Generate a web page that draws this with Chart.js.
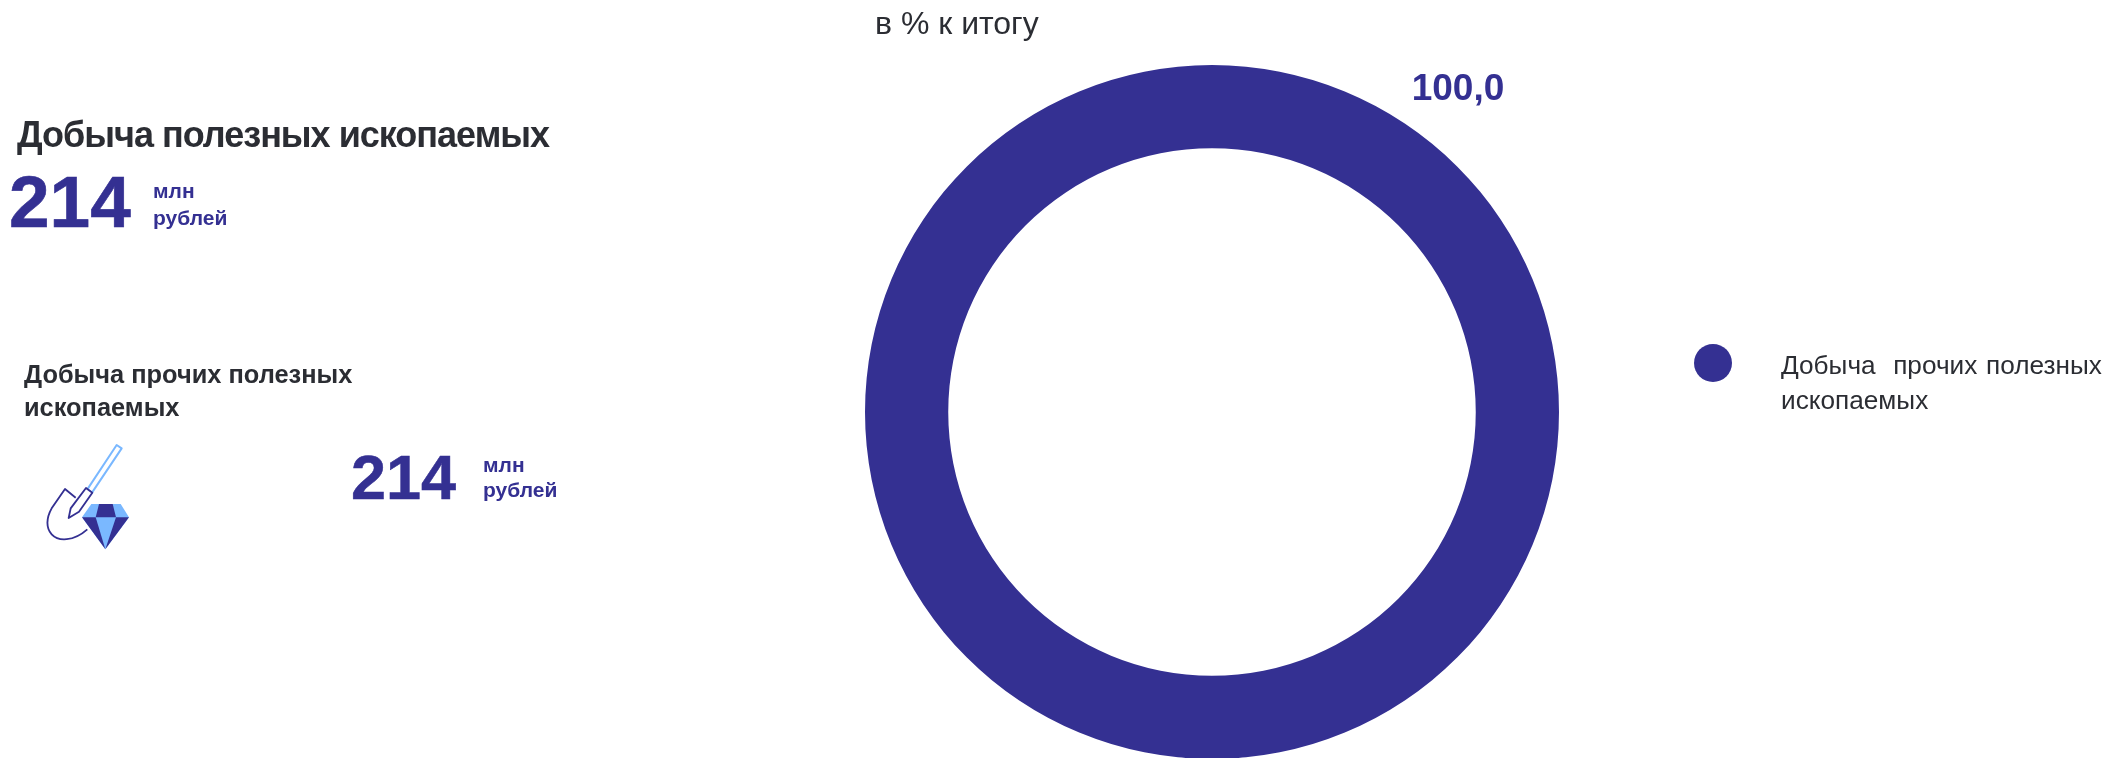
<!DOCTYPE html>
<html lang="ru">
<head>
<meta charset="utf-8">
<title>Добыча полезных ископаемых</title>
<script src="https://cdn.jsdelivr.net/npm/chart.js@4"></script>
<style>
    html, body { margin: 0; padding: 0; background: #fff; }
    body { position: relative; width: 2118px; height: 758px; overflow: hidden; font-family: "Liberation Sans", Arial, sans-serif; color: #2b2d33; }
    #myChart { position: absolute; left: 0; top: 0; }
    .txt { position: absolute; white-space: nowrap; line-height: 1; }
    .b { font-weight: bold; }
    .blue { color: #343092; }
    #legendDot { position: absolute; left: 1694px; top: 344px; width: 38px; height: 38px; border-radius: 50%; background: #343092; }
    #icon { position: absolute; left: 30px; top: 430px; }
</style>
</head>
<body>
<canvas id="myChart" width="2118" height="758"></canvas>
<div class="txt" id="subtitle" style="left:875px;top:7px;font-size:32px"></div>
<div class="txt b" id="mainTitle" style="left:17px;top:117px;font-size:36px;letter-spacing:-1px"></div>
<div class="txt b blue" id="mainValue" style="left:9px;top:165px;font-size:73px;-webkit-text-stroke:0.6px #343092"></div>
<div class="txt b blue" id="mainUnit1" style="left:153px;top:180px;font-size:21px"></div>
<div class="txt b blue" id="mainUnit2" style="left:153px;top:207px;font-size:21px"></div>
<div class="txt b" id="catLine1" style="left:24px;top:362px;font-size:25.4px"></div>
<div class="txt b" id="catLine2" style="left:24px;top:395px;font-size:25.4px"></div>
<div class="txt b blue" id="catValue" style="left:351px;top:446px;font-size:63px;-webkit-text-stroke:0.5px #343092"></div>
<div class="txt b blue" id="catUnit1" style="left:483px;top:454px;font-size:21px"></div>
<div class="txt b blue" id="catUnit2" style="left:483px;top:479px;font-size:21px"></div>
<div id="legendDot"></div>
<div class="txt" id="legend1" style="left:1781px;top:352px;font-size:26.2px;word-spacing:1.5px;white-space:pre"></div>
<div class="txt" id="legend2" style="left:1781px;top:387px;font-size:26.2px"></div>
<svg id="icon" width="110" height="120" viewBox="0 0 330 360">
    <path d="M172 178 L260 45 L275 55 L186 188 Z" fill="#fff" stroke="#7ab8ff" stroke-width="6" stroke-linejoin="round"/>
    <path d="M137 203 L105 177 L65 235 C48 265 48 295 65 313 C85 335 130 335 172 298" fill="none" stroke="#343092" stroke-width="5.5" stroke-linejoin="round"/>
    <path d="M168 174 L187 188 L147 245 L116 264 L122 235 Z" fill="#fff" stroke="#343092" stroke-width="5.5" stroke-linejoin="round"/>
    <path d="M184 222 L272 222 L297 262 L226 358 L156 262 Z" fill="#7ab8ff"/>
    <path d="M207 222 L248 222 L258 262 L197 262 Z" fill="#343092"/>
    <path d="M156 262 L197 262 L226 358 Z" fill="#343092"/>
    <path d="M258 262 L297 262 L226 358 Z" fill="#343092"/>
</svg>
<script>
const categories = ['Добыча  прочих полезных ископаемых'];
const shareValues = [100];
const shareLabels = ['100,0'];
const subtitleText = 'в % к итогу';
const mainTitleText = 'Добыча полезных ископаемых';
const totalValue = '214';
const unitLines = ['млн', 'рублей'];
const categoryTitleLines = ['Добыча прочих полезных', 'ископаемых'];
const categoryValue = '214';
const legendLines = ['Добыча  прочих полезных', 'ископаемых'];
const sliceColors = ['#343092'];

function setText(id, text) {
    document.getElementById(id).textContent = text;
}

setText('subtitle', subtitleText);
setText('mainTitle', mainTitleText);
setText('mainValue', totalValue);
setText('mainUnit1', unitLines[0]);
setText('mainUnit2', unitLines[1]);
setText('catLine1', categoryTitleLines[0]);
setText('catLine2', categoryTitleLines[1]);
setText('catValue', categoryValue);
setText('catUnit1', unitLines[0]);
setText('catUnit2', unitLines[1]);
setText('legend1', legendLines[0]);
setText('legend2', legendLines[1]);

// value label sits outside the ring, up and to the right
const sliceLabel = {
    id: 'sliceLabel',
    afterDatasetsDraw(chart) {
        const arc = chart.getDatasetMeta(0).data[0];
        const ctx = chart.ctx;
        ctx.save();
        ctx.font = 'bold 37px "Liberation Sans", Arial, sans-serif';
        ctx.fillStyle = sliceColors[0];
        ctx.textAlign = 'center';
        ctx.textBaseline = 'alphabetic';
        ctx.fillText(shareLabels[0], arc.x + 246, arc.y - 312);
        ctx.restore();
    }
};

new Chart(document.getElementById('myChart').getContext('2d'), {
    type: 'doughnut',
    data: {
        labels: categories,
        datasets: [{
            data: shareValues,
            backgroundColor: sliceColors,
            borderWidth: 0
        }]
    },
    options: {
        responsive: false,
        animation: false,
        radius: 347,
        cutout: 263,
        layout: { padding: { left: 306, top: 66 } },
        plugins: {
            legend: { display: false },
            tooltip: { enabled: false }
        }
    },
    plugins: [sliceLabel]
});
</script>
</body>
</html>
